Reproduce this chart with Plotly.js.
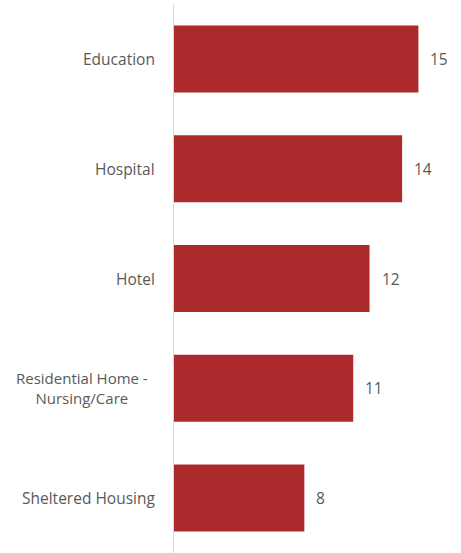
<!DOCTYPE html>
<html><head><meta charset="utf-8">
<script src="https://cdn.plot.ly/plotly-3.0.1.min.js"></script>
<style>html,body{margin:0;padding:0;background:#fff}#chart{width:461px;height:553px}</style>
</head><body><div id="chart"></div>
<script>
const categories = ["Education", "Hospital", "Hotel", "Residential Home -<br>Nursing/Care", "Sheltered Housing"];
const values = [15, 14, 12, 11, 8];

const FONT = "'Open Sans', sans-serif";
const GREY = "#595959";

const annotations = [];
categories.forEach((c, i) => {
  const multi = c.indexOf("<br>") >= 0;
  annotations.push({x: 0, xref: "paper", y: c, yref: "y", text: c, showarrow: false,
    xanchor: "right", align: "center", xshift: multi ? -24 : -17,
    font: {family: FONT, size: multi ? 15 : 15.5, color: GREY}});
  annotations.push({x: values[i], xref: "x", y: c, yref: "y", text: String(values[i]), showarrow: false,
    xanchor: "left", xshift: 10, font: {family: FONT, size: 15.5, color: GREY}});
});

Plotly.newPlot("chart", [{
  type: "bar", orientation: "h", x: values, y: categories,
  marker: {color: "#AD2A2C"}, hoverinfo: "none"
}], {
  width: 461, height: 553,
  margin: {l: 174, r: 10, t: 4, b: 0},
  paper_bgcolor: "#fff", plot_bgcolor: "#fff",
  bargap: 0.39,
  showlegend: false,
  xaxis: {range: [0, 17], showgrid: false, zeroline: false, showticklabels: false, showline: false, fixedrange: true},
  yaxis: {autorange: "reversed", showticklabels: false, showgrid: false, showline: true, linecolor: "#d9d9d9", linewidth: 1, ticks: "", fixedrange: true},
  annotations: annotations,
  font: {family: FONT, color: GREY}
}, {displayModeBar: false, staticPlot: true});
</script></body></html>
